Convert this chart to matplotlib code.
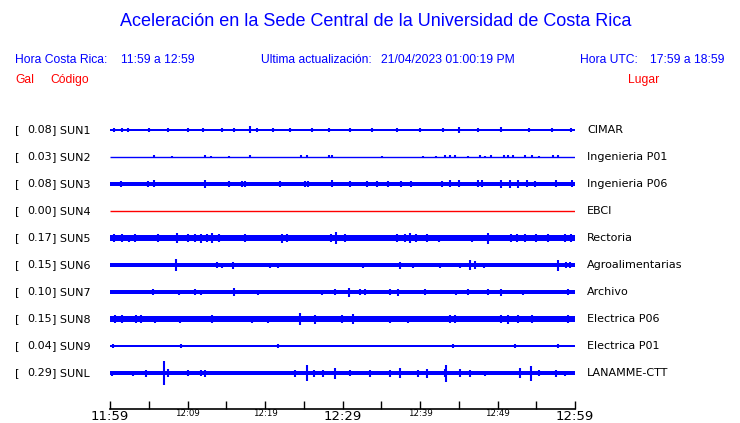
import matplotlib
matplotlib.use("Agg")
import matplotlib.pyplot as plt

W, H = 740, 423

codes = ['SUN1', 'SUN2', 'SUN3', 'SUN4', 'SUN5', 'SUN6', 'SUN7', 'SUN8', 'SUN9', 'SUNL']
places = ['CIMAR', 'Ingenieria P01', 'Ingenieria P06', 'EBCI', 'Rectoria',
          'Agroalimentarias', 'Archivo', 'Electrica P06', 'Electrica P01', 'LANAMME-CTT']
gal = [0.08, 0.03, 0.08, 0.00, 0.17, 0.15, 0.10, 0.15, 0.04, 0.29]

# background noise level of each trace (half height, screen px)
noise = [1.3, 0.0, 2.4, 0.0, 3.3, 1.7, 1.6, 3.1, 1.1, 1.8]

# (minute after 11:59, half amplitude) of visible peaks
peaks = {
    'SUN1': [(0.5, 2), (1.5, 2.2), (2.3, 2), (5, 1.8), (7.5, 1.8), (10, 1.8), (12, 1.8), (14.5, 1.8),
             (16, 2), (18.1, 3.5), (19, 2), (21, 1.8), (23.2, 2.2), (26, 1.8), (28.2, 2.2), (31, 1.8),
             (33.8, 2), (37, 1.8), (40, 1.8), (43, 1.8), (45, 3.2), (47.5, 2.2), (50.5, 2.5),
             (54, 2), (57, 1.8), (59.5, 2)],
    'SUN2': [(5.7, 1.5), (8, 1.2), (12.2, 1.5), (13, 1.2), (15.3, 1.2), (18.1, 1.5), (24.7, 1.5),
             (25.4, 1.5), (28.2, 1.5), (28.7, 1.5), (35.1, 1.2), (40.4, 1.2), (42, 1.2), (43.2, 1.5),
             (43.9, 1.5), (44.5, 1.5), (46.2, 1.2), (47.7, 1.5), (48.4, 1.2), (49.2, 1.5), (50.8, 1.5),
             (51.4, 1.5), (52, 1.5), (53.5, 1.5), (54.4, 1.5), (55.3, 1.2), (57.2, 1.5), (57.8, 1.5)],
    'SUN3': [(1.4, 3.3), (4.9, 3.3), (5.7, 3.5), (12.2, 4), (15.3, 3.3), (17, 3.3), (17.4, 3.3),
             (21.9, 3), (25.2, 3.3), (25.6, 3.3), (28.6, 3.5), (31, 3), (33.1, 3.3), (34.4, 3.3),
             (35.9, 3.3), (37.6, 3.3), (38.9, 3.3), (42.8, 3.3), (43.9, 3.5), (45, 3.5), (47.5, 3.5),
             (48, 3.5), (50.5, 4), (51.6, 4), (52.7, 3.8), (53.8, 3.5), (54.8, 3.3), (57.6, 3.5),
             (59.6, 3.5)],
    'SUN4': [],
    'SUN5': [(0.5, 3.8), (1.5, 3.8), (2.4, 3.5), (3.2, 3.8), (6.2, 4), (8.6, 5), (10, 3.8),
             (11, 4), (11.8, 4.5), (12.5, 4), (13.1, 5), (14, 3.8), (17.4, 4), (22.2, 4.5),
             (22.8, 3.8), (29.2, 6), (28.5, 4), (30.3, 4), (37, 4), (38, 4), (38.7, 5), (39.5, 4),
             (40.9, 4), (42.4, 3.5), (46.7, 3.5), (48.8, 5.5), (51.8, 4), (52.5, 4), (53.5, 3.8),
             (55, 3.8), (56.5, 3.8), (58.7, 4), (59.5, 3.8)],
    'SUN6': [(5.9, 2), (7.5, 2), (8.5, 6), (13.8, 3), (14.4, 2.5), (15.9, 3.5), (20, 2), (20.6, 2.5),
             (21.7, 2.5), (23.9, 2), (25.2, 2), (26.5, 2), (30.1, 2), (30.5, 2), (32.7, 2.5),
             (34.6, 2), (37.4, 3.5), (38.6, 2), (39.1, 2.5), (40.2, 2), (42.6, 2.5), (45.2, 2.5),
             (46.5, 5), (47.1, 4), (48.2, 2.5), (50.1, 2), (52.5, 2), (54, 2), (55.3, 2), (57.8, 5.5),
             (58.9, 3), (59.4, 3)],
    'SUN7': [(0.2, 2.3), (1.7, 2), (2.8, 2), (5.5, 3), (6.9, 2), (8.9, 2.5), (11, 3), (11.8, 2.5),
             (12.9, 2), (13.8, 2), (14.8, 2), (16, 4), (19.1, 2.5), (22.8, 2), (24.7, 2), (27.3, 2.5),
             (29, 3), (30.8, 4.5), (32.3, 3), (32.9, 3), (34.6, 2), (36.1, 3), (37.2, 3.5), (38.5, 2),
             (40.6, 3), (42.8, 2), (44.7, 2.5), (46.2, 3), (48.8, 3), (50.5, 3.5), (53.3, 2.5),
             (56.6, 2), (58.1, 2), (59.1, 3)],
    'SUN8': [(0.6, 4), (1.5, 3.8), (3.4, 4), (4, 3.8), (5.8, 3.5), (9, 3.5), (13.1, 4), (18.3, 3.5),
             (20.4, 3.5), (24.5, 6), (26.4, 4.5), (29.9, 4), (31.4, 5), (36.1, 3.5), (38.5, 3.5),
             (43.9, 4), (44.5, 4), (50.5, 4), (51.4, 4.5), (52.7, 4), (54.4, 4), (59.1, 4)],
    'SUN9': [(0.4, 1.8), (9.2, 1.8), (21.7, 1.8), (44.3, 1.8), (52.3, 1.8), (57.8, 1.8)],
    'SUNL': [(0.2, 2.5), (3, 2.5), (4.7, 3.5), (7, 12), (7.5, 4), (10.1, 3), (11.8, 3), (12.3, 3.5),
             (20, 2), (23.9, 3.5), (25.4, 8), (26.3, 3.5), (27.5, 3.5), (29, 5.5), (31, 3),
             (33.5, 3.5), (36.1, 3.5), (37.4, 5), (39.8, 3.5), (40.9, 4.5), (43.2, 4), (43.4, 8.5),
             (45.2, 4), (46.5, 3.5), (48.4, 2.5), (52.9, 5), (54.3, 7.5), (55.3, 3), (57.6, 3.5),
             (58.7, 2.5)],
}

tick_min = list(range(0, 61, 5))
tick_txt = ['11:59', '', '12:09', '', '12:19', '', '12:29', '', '12:39', '', '12:49', '', '12:59']
big_ticks = ['11:59', '12:29', '12:59']

blue = '#0000ff'
red = '#ff0000'

fig = plt.figure(figsize=(W / 100, H / 100), dpi=100)
fig.patch.set_facecolor('white')


def fx(px):
    return px / W


def fy(py):
    return 1 - py / H


top, bot, left, right = 115, 409, 110, 575
ax = fig.add_axes([fx(left), fy(bot), (right - left) / W, (bot - top) / H])
ax.set_xlim(0, 60)
ax.set_ylim(bot, top)

for i, code in enumerate(codes):
    yc = 130 + 27 * i
    if code == 'SUN4':
        ax.hlines(yc, 0, 60, color=red, lw=1)
        continue
    if noise[i] > 0:
        ax.fill_between([0, 60], yc - noise[i], yc + noise[i], color=blue, lw=0)
    else:
        ax.hlines(yc, 0, 60, color=blue, lw=1)
    pk = peaks[code]
    if pk:
        t = [p[0] for p in pk]
        a = [p[1] for p in pk]
        ax.vlines(t, [yc - v for v in a], [yc + v for v in a], color=blue, lw=1.5)

for s in ['top', 'left', 'right']:
    ax.spines[s].set_visible(False)
ax.spines['bottom'].set_linewidth(1.2)
ax.set_yticks([])
ax.set_xticks(tick_min, tick_txt)
ax.tick_params(axis='x', direction='in', length=6, width=1, pad=1)
for lab in ax.get_xticklabels():
    if lab.get_text() in big_ticks:
        lab.set_fontsize(9.5)
    else:
        lab.set_fontsize(6.2)
        lab.set_y(0.005)

# header
hf = 'Liberation Sans'
hs = 8.7
fig.text(fx(376), fy(22), 'Aceleración en la Sede Central de la Universidad de Costa Rica',
         color=blue, fontsize=13, family=hf, ha='center', va='center')
fig.text(fx(15), fy(60), 'Hora Costa Rica:', color=blue, fontsize=hs, family=hf, va='center')
fig.text(fx(121), fy(60), '11:59 a 12:59', color=blue, fontsize=hs, family=hf, va='center')
fig.text(fx(261), fy(60), 'Ultima actualización:', color=blue, fontsize=hs, family=hf, va='center')
fig.text(fx(381), fy(60), '21/04/2023 01:00:19 PM', color=blue, fontsize=hs, family=hf, va='center')
fig.text(fx(580), fy(60), 'Hora UTC:', color=blue, fontsize=hs, family=hf, va='center')
fig.text(fx(650), fy(60), '17:59 a 18:59', color=blue, fontsize=hs, family=hf, va='center')
fig.text(fx(15), fy(80), 'Gal', color=red, fontsize=hs, family=hf, va='center')
fig.text(fx(50), fy(80), 'Código', color=red, fontsize=hs, family=hf, va='center')
fig.text(fx(628), fy(80), 'Lugar', color=red, fontsize=hs, family=hf, va='center')

for i, code in enumerate(codes):
    yc = 130 + 27 * i
    fig.text(fx(15), fy(yc), '[', fontsize=8, va='center')
    fig.text(fx(52), fy(yc), f'{gal[i]:.2f}', fontsize=8, va='center', ha='right')
    fig.text(fx(51.5), fy(yc), f'] {code}', fontsize=8, va='center')
    fig.text(fx(587), fy(yc), places[i], fontsize=8, va='center')

fig.savefig('out.png', dpi=100)
